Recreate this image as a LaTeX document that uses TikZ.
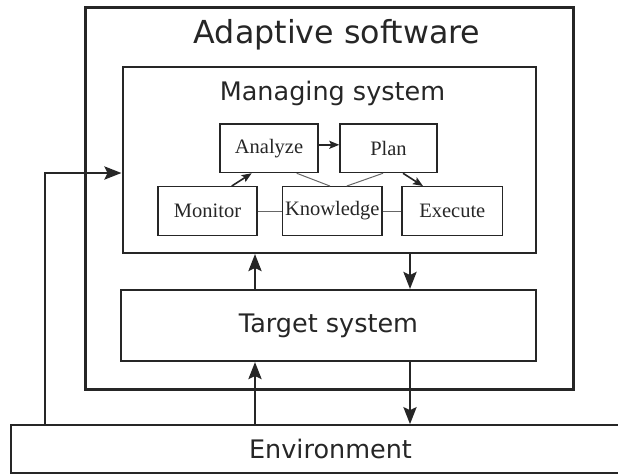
\documentclass[tikz,border=0pt]{standalone}
\usepackage{fontspec}
\newfontfamily\dejavu{DejaVu Sans}
\newfontfamily\serifbox{Liberation Serif}
\usetikzlibrary{arrows.meta}

\begin{document}
\begin{tikzpicture}[x=1pt,y=-1pt,
				box/.style={draw=black!85, inner sep=0pt},
				mape/.style={box, line width=1.4pt, minimum height=48.5pt, font=\serifbox\fontsize{20.5}{23}\selectfont, text=black!85},
				flow/.style={line width=2.8pt, black!85, -{Stealth[length=17pt,width=13pt,inset=3pt]}},
				small flow/.style={line width=1.6pt, black!85, -{Stealth[length=10pt,width=8pt,inset=2pt]}},
				link/.style={line width=1pt, black!60},
				big text/.style={font=\dejavu\fontsize{25.5}{30}\selectfont, text=black!85}]
\useasboundingbox (0,0) rectangle (618,475);
\node[box, line width=3pt, minimum width=488pt, minimum height=381.5pt](adaptive) at (329,198.25) {};
\node[box, line width=2pt, minimum width=413.5pt, minimum height=186.5pt](managing) at (329.25,159.75) {};
\node[box, line width=2pt, minimum width=415pt, minimum height=71pt](target) at (328.5,325.5) {};
\node[box, line width=1.6pt, minimum width=614pt, minimum height=48pt](env) at (318,449) {};
\node[font=\dejavu\fontsize{31.7}{36}\selectfont, text=black!85](adaptive text) at (337,35) {Adaptive software};
\node[big text](managing text) at (332.5,93) {Managing system};
\node[big text](target text) at (328.5,325.5) {Target system};
\node[big text](env text) at (330.5,449) {Environment};
% MAPE-K loop
\node[mape, minimum width=98pt](analyze) at (269,148.3) {Analyze};
\node[mape, minimum width=97pt](plan) at (388.5,148.3) {Plan};
\node[mape, minimum width=99pt](monitor) at (207.5,211) {Monitor};
\node[mape, minimum width=99.3pt](knowledge) at (332.3,211) {Knowledge};
\node[mape, minimum width=100.7pt](execute) at (452.3,211) {Execute};
\draw[small flow] ([yshift=3.5pt]analyze.east) -- ([yshift=3.5pt]plan.west);
\draw[small flow] ([xshift=24.2pt]monitor.north) -- ([xshift=-17.3pt]analyze.south);
\draw[small flow] ([xshift=14.5pt]plan.south) -- ([xshift=-29.3pt]execute.north);
\draw[link] ([xshift=27.7pt]analyze.south) -- ([xshift=-2.3pt]knowledge.north);
\draw[link] ([xshift=-5.5pt]plan.south) -- ([xshift=14.4pt]knowledge.north);
\draw[link] (monitor) -- (knowledge);
\draw[link] (knowledge) -- (execute);
% sensing and effecting
\coordinate (up) at (255,0);
\coordinate (down) at (410,0);
\coordinate (fb) at (45,173);
\draw[flow] (up |- target.north) -- (up |- managing.south);
\draw[flow] (down |- managing.south) -- (down |- target.north);
\draw[flow] (up |- env.north) -- (up |- target.south);
\draw[flow] (down |- target.south) -- (down |- env.north);
\draw[flow] (fb |- env.north) -- (fb) -- (fb -| managing.west);
\end{tikzpicture}
\end{document}
